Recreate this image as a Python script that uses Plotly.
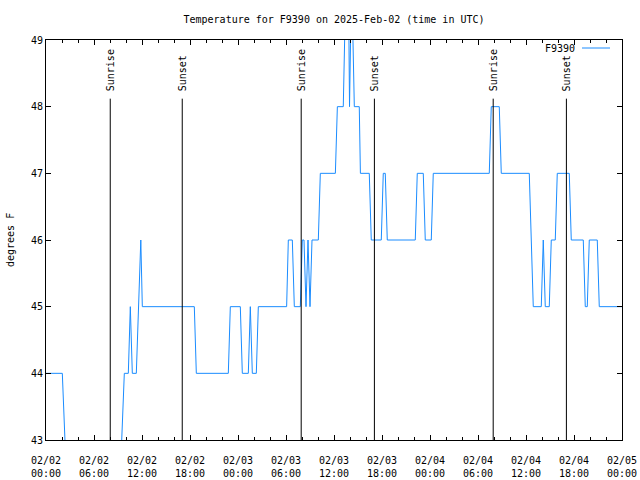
import pandas as pd
import plotly.graph_objects as go

# ---- data ----
start = "2025-02-02 00:00"
end_hours = 72
hours = [
    0, 2.04, 2.7,
    9.14, 9.79, 10.29, 10.54, 10.79, 11.29, 11.85, 12.04,
    18.54, 18.79, 22.79, 23.04, 24.29, 24.54, 25.29, 25.54, 25.79, 26.29, 26.54,
    30.08, 30.29, 30.79, 31.04, 31.79, 32.04, 32.25, 32.5, 32.75, 33.0, 33.25, 34.04, 34.29,
    36.17, 36.42, 37.16, 37.5, 37.8, 37.94, 38.1, 38.2, 38.54,
    39.16, 39.3, 40.41, 40.66, 41.91, 42.16, 42.41, 42.66,
    46.16, 46.41, 47.16, 47.41, 48.16, 48.41,
    55.41, 55.66, 56.66, 56.91, 60.41, 60.91,
    61.91, 62.16, 62.41, 62.91, 63.16, 63.66, 63.91, 65.41, 65.66, 67.16, 67.41, 67.66,
    67.91, 68.91, 69.16, 72,
]
temps_f = [
    44, 44, 42,
    42, 44, 44, 45, 44, 44, 46, 45,
    45, 44, 44, 45, 45, 44, 44, 45, 44, 44, 45,
    45, 46, 46, 45, 45, 46, 46, 45, 46, 45, 46, 46, 47,
    47, 48, 48, 50, 50, 48, 50, 50, 48,
    48, 47, 47, 46, 46, 47, 47, 46,
    46, 47, 47, 46, 46, 47,
    47, 48, 48, 47, 47, 45,
    45, 46, 45, 45, 46, 46, 47, 47, 46, 46, 45, 45,
    46, 46, 45, 45,
]
sun_event_hours = [8.03, 17.03, 31.9, 41.05, 55.9, 65.05]
sun_event_labels = ["Sunrise", "Sunset", "Sunrise", "Sunset", "Sunrise", "Sunset"]
y_range = [43, 49]
series_name = "F9390"
title_text = "Temperature for F9390 on 2025-Feb-02 (time in UTC)"
y_title = "degrees F"

# ---- styles ----
FONT = "DejaVu Sans Mono"
FS = 10
LINE_COLOR = "#1a8cff"
EVENT_LINE_TOP = 48.12

t0 = pd.Timestamp(start)
times = [t0 + pd.to_timedelta(h, unit="h") for h in hours]
ev_times = [t0 + pd.to_timedelta(h, unit="h") for h in sun_event_hours]
t_end = t0 + pd.to_timedelta(end_hours, unit="h")

fig = go.Figure()
fig.add_trace(go.Scatter(x=times, y=temps_f, mode="lines", name=series_name,
                         line=dict(color=LINE_COLOR, width=1), showlegend=False))

for et, lab in zip(ev_times, sun_event_labels):
    fig.add_shape(type="line", xref="x", yref="y", x0=et, x1=et,
                  y0=y_range[0], y1=EVENT_LINE_TOP,
                  line=dict(color="black", width=1))
    fig.add_annotation(x=et, y=1 - 53 / 400, xref="x", yref="paper",
                       text=lab, textangle=-90, showarrow=False,
                       xanchor="center", yanchor="bottom",
                       font=dict(family=FONT, size=FS, color="black"))

# legend (gnuplot style: text then sample)
fig.add_annotation(x=(577 - 46) / 576, y=1 - 8 / 400, xref="paper", yref="paper",
                   text=series_name, showarrow=False, xanchor="right", yanchor="middle",
                   font=dict(family=FONT, size=FS, color="black"))
fig.add_shape(type="line", xref="paper", yref="paper",
              x0=(582 - 46) / 576, x1=(610 - 46) / 576, y0=1 - 8 / 400, y1=1 - 8 / 400,
              line=dict(color=LINE_COLOR, width=1))

# y title
fig.add_annotation(x=(10 - 46) / 576, y=0.5, xref="paper", yref="paper",
                   text=y_title, textangle=-90, showarrow=False,
                   xanchor="center", yanchor="middle",
                   font=dict(family=FONT, size=FS, color="black"))

fig.update_layout(
    width=640, height=480,
    margin=dict(l=46, r=18, t=40, b=40, autoexpand=False),
    paper_bgcolor="white", plot_bgcolor="white",
    font=dict(family=FONT, size=FS, color="black"),
    title=dict(text=title_text, x=(46 + 622) / 2 / 640, xanchor="center",
               y=1 - 19 / 480, yanchor="middle",
               font=dict(family=FONT, size=FS, color="black")),
    showlegend=False,
)
fig.update_xaxes(
    type="date", range=[t0, t_end], showgrid=False, zeroline=False, automargin=False,
    showline=True, linecolor="black", linewidth=1, mirror="ticks",
    ticks="inside", ticklen=5, tickcolor="black", ticklabelstandoff=11,
    dtick=6 * 3600 * 1000, tick0=t0, tickformat="%m/%d<br>%H:%M",
    minor=dict(dtick=2 * 3600 * 1000, ticks="inside", ticklen=3, tickcolor="black", showgrid=False),
    tickfont=dict(family=FONT, size=FS, color="black"),
)
fig.update_yaxes(
    range=y_range, showgrid=False, zeroline=False, automargin=False,
    showline=True, linecolor="black", linewidth=1, mirror="ticks",
    ticks="inside", ticklen=5, tickcolor="black", dtick=1,
    tickfont=dict(family=FONT, size=FS, color="black"),
)

fig.write_html("out.html")
